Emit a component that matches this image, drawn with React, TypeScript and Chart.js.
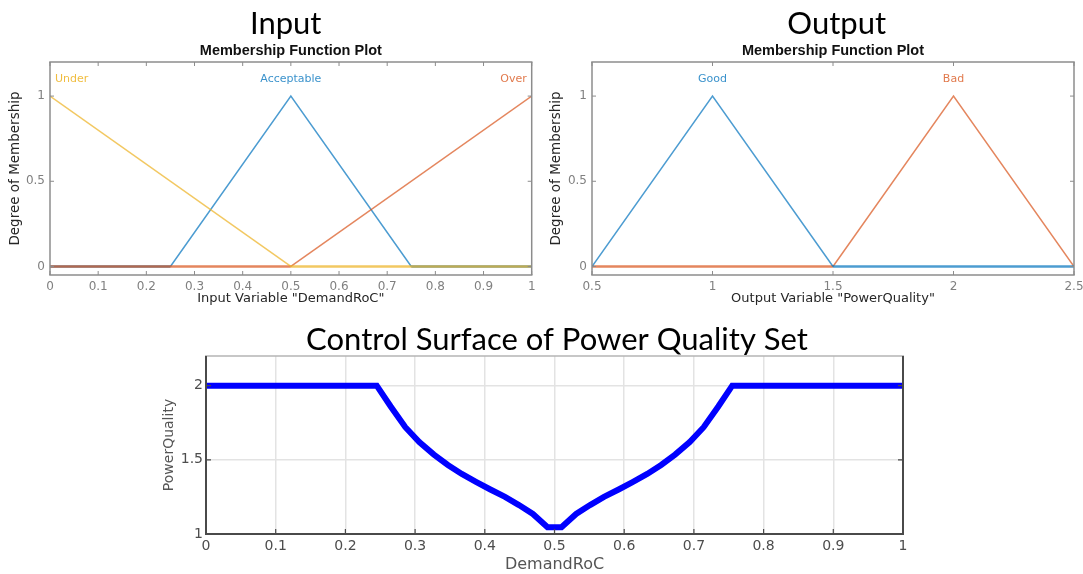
import React, { useEffect, useRef } from 'react';
import { Chart, registerables } from 'chart.js';

Chart.register(...registerables);

// ---------- data ----------
const inputTicks = [0, 0.1, 0.2, 0.3, 0.4, 0.5, 0.6, 0.7, 0.8, 0.9, 1];
const outputTicks = [0.5, 1, 1.5, 2, 2.5];
const membershipTicks = [0, 0.5, 1];
const surfaceXTicks = [0, 0.1, 0.2, 0.3, 0.4, 0.5, 0.6, 0.7, 0.8, 0.9, 1];
const surfaceYTicks = [1, 1.5, 2];

const underX = [0, 0.5, 1];
const underY = [1, 0, 0];
const acceptableX = [0, 0.25, 0.5, 0.75, 1];
const acceptableY = [0, 0, 1, 0, 0];
const overX = [0, 0.5, 1];
const overY = [0, 0, 1];

const goodX = [0.5, 1, 1.5, 2.5];
const goodY = [0, 1, 0, 0];
const badX = [0.5, 1.5, 2, 2.5];
const badY = [0, 0, 1, 0];

const inputNames = ['Under', 'Acceptable', 'Over'];
const inputPeaks = [0, 0.5, 1];
const outputNames = ['Good', 'Bad'];
const outputPeaks = [1, 2];

const demandRoC = [0, 0.245, 0.265, 0.286, 0.306, 0.327, 0.347, 0.367, 0.388, 0.408, 0.429, 0.449, 0.469, 0.49, 0.51, 0.531, 0.551, 0.571, 0.592, 0.612, 0.633, 0.653, 0.673, 0.694, 0.714, 0.735, 0.755, 1];
const powerQuality = [2, 2, 1.86, 1.72, 1.62, 1.535, 1.465, 1.405, 1.35, 1.3, 1.25, 1.195, 1.135, 1.045, 1.045, 1.135, 1.195, 1.25, 1.3, 1.35, 1.405, 1.465, 1.535, 1.62, 1.72, 1.86, 2, 2];

// ---------- styles ----------
const BLUE = 'rgba(0,114,189,0.7)';
const ORANGE = 'rgba(217,83,25,0.7)';
const YELLOW = 'rgba(237,177,32,0.7)';
const BLUE_T = 'rgba(0,114,189,0.78)';
const ORANGE_T = 'rgba(217,83,25,0.78)';
const YELLOW_T = 'rgba(237,177,32,0.85)';

const TITLE_FONT = 'Lato';
const AX_FONT = 'DejaVu Sans';

const fmt = (v: number) => String(Math.round(v * 100) / 100);

// ---------- plugins ----------
const framePlugin = {
  id: 'frame',
  afterDatasetsDraw(chart: any, _args: any, o: any) {
    const { ctx, chartArea: a, scales } = chart;
    const xs = scales.x;
    const ys = scales.y;
    const L = o.tickLen;
    ctx.save();
    ctx.lineWidth = o.tickWidth;
    ctx.strokeStyle = o.tickColor;
    ctx.beginPath();
    xs.ticks.forEach((t: any) => {
      const p = xs.getPixelForValue(t.value);
      ctx.moveTo(p, a.bottom);
      ctx.lineTo(p, a.bottom - L);
      if (o.topTicks) {
        ctx.moveTo(p, a.top);
        ctx.lineTo(p, a.top + L);
      }
    });
    ys.ticks.forEach((t: any) => {
      const p = ys.getPixelForValue(t.value);
      ctx.moveTo(a.left, p);
      ctx.lineTo(a.left + L, p);
      ctx.moveTo(a.right, p);
      ctx.lineTo(a.right - L, p);
    });
    ctx.stroke();
    const side = (x1: number, y1: number, x2: number, y2: number, c: string, w: number) => {
      ctx.beginPath();
      ctx.strokeStyle = c;
      ctx.lineWidth = w;
      ctx.moveTo(x1, y1);
      ctx.lineTo(x2, y2);
      ctx.stroke();
    };
    side(a.left - o.width / 2, a.top, a.right + o.width / 2, a.top, o.topColor, o.topWidth);
    side(a.right, a.top, a.right, a.bottom, o.color, o.width);
    side(a.left - o.width / 2, a.bottom, a.right + o.width / 2, a.bottom, o.color, o.width);
    side(a.left, a.top, a.left, a.bottom, o.color, o.width);
    ctx.restore();
  },
};

const labelPlugin = {
  id: 'mfLabels',
  afterDatasetsDraw(chart: any, _args: any, o: any) {
    if (!o || !o.names) return;
    const { ctx, chartArea: a, scales } = chart;
    ctx.save();
    ctx.font = `${o.size}px "${AX_FONT}"`;
    ctx.textBaseline = 'middle';
    const py = scales.y.getPixelForValue(o.y);
    o.names.forEach((name: string, i: number) => {
      const w = ctx.measureText(name).width;
      let cx = scales.x.getPixelForValue(o.peaks[i]);
      cx = Math.max(a.left + o.margin + w / 2, Math.min(a.right - o.margin - w / 2, cx));
      ctx.fillStyle = o.colors[i];
      ctx.textAlign = 'center';
      ctx.fillText(name, cx, py);
    });
    ctx.restore();
  },
};

const toPts = (xs: number[], ys: number[]) => xs.map((x, i) => ({ x, y: ys[i] }));

const mfDataset = (label: string, xs: number[], ys: number[], color: string) => ({
  label,
  data: toPts(xs, ys),
  borderColor: color,
  borderWidth: 1.5,
  pointRadius: 0,
  fill: false,
  tension: 0,
  segment: {
    borderWidth: (c: any) => (c.p0.parsed.y === 0 && c.p1.parsed.y === 0 ? 2.3 : 1.5),
  },
});

// invisible right-hand spacer axis (keeps the slide titles centred where they are)
const spacerAxis = (w: number) => ({
  type: 'linear',
  position: 'right',
  display: true,
  grid: { display: false, drawTicks: false },
  border: { display: false },
  ticks: { display: false },
  afterFit: (s: any) => {
    s.width = w;
  },
});

const membershipOptions = (
  title: string,
  xTitle: string,
  xMin: number,
  xMax: number,
  xTicks: number[],
  yAxisWidth: number,
  rightAxis: number,
  yTitlePad: number,
  names: string[],
  peaks: number[],
  colors: string[],
) => ({
  animation: false,
  responsive: true,
  maintainAspectRatio: false,
  layout: { padding: 0 },
  plugins: {
    legend: { display: false },
    tooltip: { enabled: false },
    title: {
      display: true,
      text: title,
      color: '#000',
      font: { family: TITLE_FONT, size: 31, weight: 'normal', lineHeight: 1 },
      padding: { top: 8, bottom: 0 },
    },
    subtitle: {
      display: true,
      text: 'Membership Function Plot',
      fullSize: false,
      color: '#111',
      font: { family: 'Liberation Sans', size: 14.5, weight: 'bold', lineHeight: 1 },
      padding: { top: 5, bottom: 3.5 },
    },
    frame: { color: '#8c8c8c', width: 1.5, topColor: '#8c8c8c', topWidth: 1.5, tickColor: '#8c8c8c', tickWidth: 1, tickLen: 4, topTicks: true },
    mfLabels: { names, peaks, colors, y: 1.1, size: 11, margin: 5 },
  },
  scales: {
    x: {
      type: 'linear',
      min: xMin,
      max: xMax,
      afterBuildTicks: (ax: any) => {
        ax.ticks = xTicks.map((v) => ({ value: v }));
      },
      afterFit: (s: any) => {
        s.height = 35;
      },
      grid: { display: false, drawTicks: false },
      border: { display: false },
      ticks: {
        autoSkip: false,
        maxRotation: 0,
        padding: 5,
        color: '#808080',
        font: { family: AX_FONT, size: 12 },
        callback: (v: any) => fmt(Number(v)),
      },
      title: {
        display: true,
        text: xTitle,
        color: '#262626',
        font: { family: AX_FONT, size: 13, lineHeight: 1.2 },
        padding: { top: 0, bottom: 3.2 },
      },
    },
    y: {
      type: 'linear',
      min: -0.05,
      max: 1.2,
      afterBuildTicks: (ax: any) => {
        ax.ticks = membershipTicks.map((v) => ({ value: v }));
      },
      afterFit: (s: any) => {
        s.width = yAxisWidth;
      },
      grid: { display: false, drawTicks: false },
      border: { display: false },
      ticks: {
        padding: 5,
        color: '#808080',
        font: { family: AX_FONT, size: 12 },
        callback: (v: any) => fmt(Number(v)),
      },
      title: {
        display: true,
        text: 'Degree of Membership',
        color: '#262626',
        font: { family: AX_FONT, size: 13.5, lineHeight: 1.2 },
        padding: { top: yTitlePad, bottom: 0 },
      },
    },
    yr: spacerAxis(rightAxis),
  },
});

function useChart(makeConfig: () => any) {
  const ref = useRef<HTMLCanvasElement | null>(null);
  useEffect(() => {
    if (!ref.current) return;
    const chart = new Chart(ref.current, makeConfig());
    return () => chart.destroy();
  }, []);
  return ref;
}

function Box({ left, top, width, height, makeConfig }: any) {
  const ref = useChart(makeConfig);
  return (
    <div style={{ position: 'absolute', left, top, width, height }}>
      <canvas ref={ref} />
    </div>
  );
}

const inputConfig = () => ({
  type: 'line',
  data: {
    datasets: [
      mfDataset('Under', underX, underY, YELLOW),
      mfDataset('Over', overX, overY, ORANGE),
      mfDataset('Acceptable', acceptableX, acceptableY, BLUE),
    ],
  },
  options: membershipOptions('Input', 'Input Variable "DemandRoC"', 0, 1, inputTicks, 50, 39.7, 7.2, inputNames, inputPeaks, [YELLOW_T, BLUE_T, ORANGE_T]),
  plugins: [framePlugin, labelPlugin],
});

const outputConfig = () => ({
  type: 'line',
  data: {
    datasets: [
      mfDataset('Good', goodX, goodY, BLUE),
      mfDataset('Bad', badX, badY, ORANGE),
    ],
  },
  options: membershipOptions('Output', 'Output Variable "PowerQuality"', 0.5, 2.5, outputTicks, 47, 54.4, 2.9, outputNames, outputPeaks, [BLUE_T, ORANGE_T]),
  plugins: [framePlugin, labelPlugin],
});

const surfaceConfig = () => ({
  type: 'line',
  data: {
    datasets: [
      {
        label: 'PowerQuality',
        data: toPts(demandRoC, powerQuality),
        borderColor: '#0000ff',
        borderWidth: 6,
        pointRadius: 0,
        fill: false,
        tension: 0,
      },
    ],
  },
  options: {
    animation: false,
    responsive: true,
    maintainAspectRatio: false,
    layout: { padding: 0 },
    plugins: {
      legend: { display: false },
      tooltip: { enabled: false },
      title: {
        display: true,
        text: 'Control Surface of Power Quality Set',
        color: '#000',
        font: { family: TITLE_FONT, size: 31, weight: 'normal', lineHeight: 1 },
        padding: { top: 6.5, bottom: 0.5 },
      },
      frame: { color: '#4a4a4a', width: 2, topColor: '#b4b4b4', topWidth: 1.5, tickColor: '#4a4a4a', tickWidth: 1.2, tickLen: 5, topTicks: false },
    },
    scales: {
      x: {
        type: 'linear',
        min: 0,
        max: 1,
        afterBuildTicks: (ax: any) => {
          ax.ticks = surfaceXTicks.map((v) => ({ value: v }));
        },
        afterFit: (s: any) => {
          s.height = 40;
        },
        grid: { display: true, drawTicks: false, color: '#e3e3e3', lineWidth: 1.5 },
        border: { display: false },
        ticks: {
          autoSkip: false,
          maxRotation: 0,
          padding: 3.6,
          color: '#4d4d4d',
          font: { family: AX_FONT, size: 14 },
          callback: (v: any) => fmt(Number(v)),
        },
        title: {
          display: true,
          text: 'DemandRoC',
          color: '#555',
          font: { family: AX_FONT, size: 16, lineHeight: 1.2 },
          padding: { top: 0, bottom: 0 },
        },
      },
      y: {
        type: 'linear',
        min: 1,
        max: 2.2,
        afterBuildTicks: (ax: any) => {
          ax.ticks = surfaceYTicks.map((v) => ({ value: v }));
        },
        afterFit: (s: any) => {
          s.width = 66;
        },
        grid: { display: true, drawTicks: false, color: '#e3e3e3', lineWidth: 1.5 },
        border: { display: false },
        ticks: {
          padding: 3,
          color: '#4d4d4d',
          font: { family: AX_FONT, size: 14 },
          callback: (v: any) => fmt(Number(v)),
        },
        title: {
          display: true,
          text: 'PowerQuality',
          color: '#555',
          font: { family: AX_FONT, size: 14, lineHeight: 1.2 },
          padding: { top: 21, bottom: 0 },
        },
      },
      yr: spacerAxis(71),
    },
  },
  plugins: [framePlugin],
});

export default function App() {
  return (
    <div
      style={{
        position: 'absolute',
        left: 0,
        top: 0,
        width: 1083,
        height: 574,
        overflow: 'hidden',
        background: '#fff',
      }}
    >
      <Box left={0} top={0} width={571.4} height={310} makeConfig={inputConfig} />
      <Box left={545} top={0} width={583.4} height={310} makeConfig={outputConfig} />
      <Box left={140} top={318} width={834} height={256} makeConfig={surfaceConfig} />
    </div>
  );
}
